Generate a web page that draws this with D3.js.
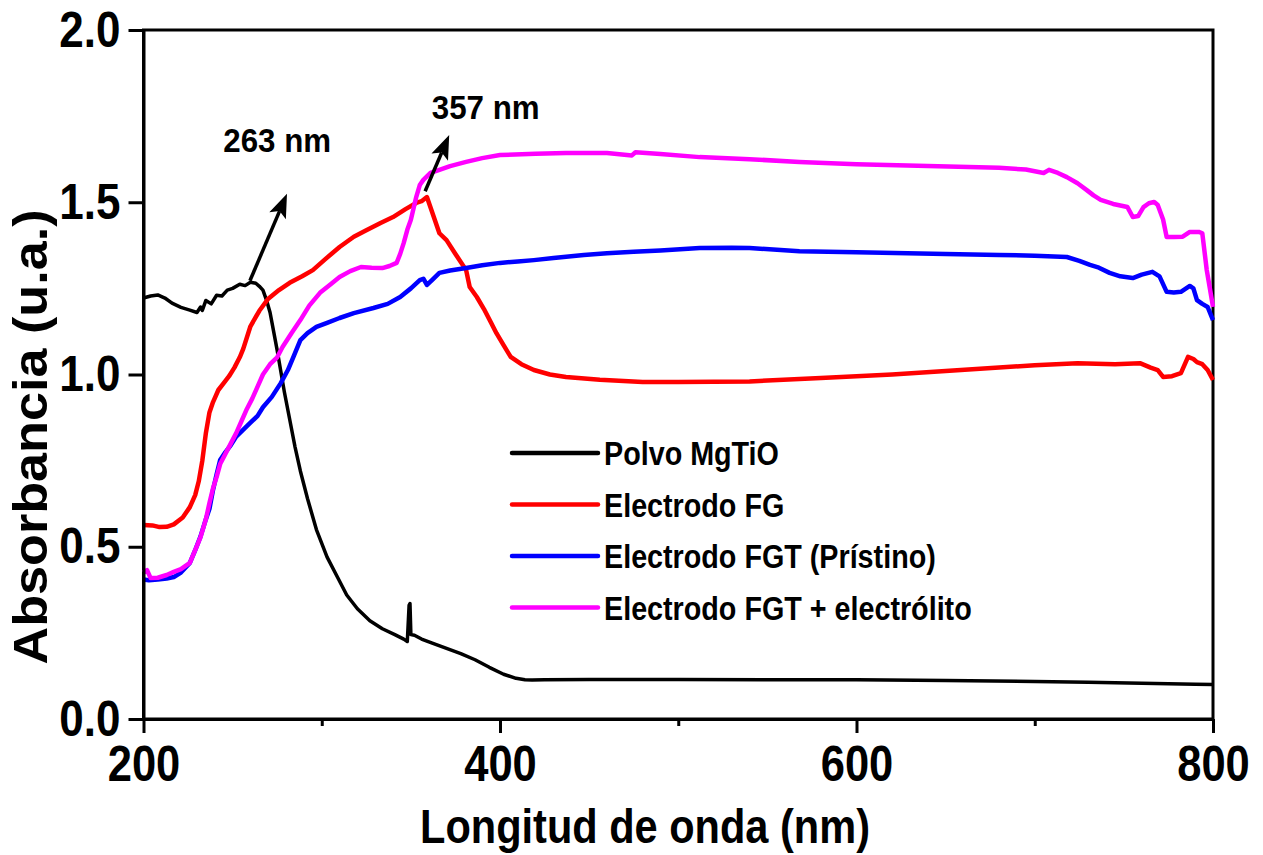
<!DOCTYPE html>
<html><head><meta charset="utf-8">
<script src="https://cdn.jsdelivr.net/npm/d3@7"></script>
<style>
body{margin:0;background:#fff;}
text{font-family:"Liberation Sans",Arial,sans-serif;font-weight:bold;fill:#000;}
</style></head>
<body><svg id="c" width="1263" height="855"></svg>
<script>
// ---- data ----
const xTicks = [200, 400, 600, 800];
const xMinorTicks = [300, 500, 700];
const yTicks = [0.0, 0.5, 1.0, 1.5, 2.0];
const seriesNames = ["Polvo MgTiO", "Electrodo FG", "Electrodo FGT (Prístino)", "Electrodo FGT + electrólito"];
const seriesColors = ["#000000", "#ff0000", "#0000ff", "#ff00ff"];

const polvoX = [200,204,208,212,216,221,226,230,232,233,235,238,241,244,247,250,254,257,260,263,265,267,269,271,273,275,277,279,282,285,288,292,297,303,309,314,320,327,334,341,346,348,349,349.5,350,352,356,362,370,378,386,394,402,409,414,418,425,450,500,550,600,650,700,730,760,790,800];
const polvoY = [1.222,1.228,1.231,1.222,1.207,1.195,1.187,1.18,1.196,1.186,1.215,1.205,1.23,1.228,1.245,1.25,1.262,1.258,1.268,1.265,1.256,1.245,1.216,1.18,1.125,1.07,1.01,0.95,0.87,0.79,0.72,0.64,0.55,0.47,0.41,0.36,0.32,0.285,0.262,0.245,0.232,0.225,0.33,0.335,0.245,0.243,0.232,0.22,0.205,0.19,0.172,0.15,0.13,0.118,0.114,0.113,0.114,0.115,0.115,0.114,0.114,0.112,0.109,0.107,0.104,0.101,0.100];

const fgX = [200,205,209,213,217,222,226,229,231,233,235,237,239,242,245,248,251,254,256,260,265,270,276,282,289,295,302,310,318,325,333,340,347,353,356,359,362,366,370,375,381,383,387,391,395,398,402,406,412,419,428,437,456,480,500,540,580,620,650,680,700,724,745,759,765,769,772,777,782,786,789,791,794,797,800];
const fgY = [0.563,0.562,0.557,0.558,0.565,0.585,0.615,0.65,0.69,0.75,0.83,0.89,0.92,0.955,0.975,0.995,1.02,1.05,1.075,1.14,1.185,1.22,1.245,1.266,1.285,1.303,1.335,1.37,1.4,1.419,1.44,1.457,1.48,1.498,1.503,1.515,1.47,1.41,1.39,1.35,1.303,1.254,1.225,1.19,1.15,1.12,1.085,1.051,1.03,1.013,1.0,0.993,0.985,0.978,0.978,0.98,0.99,1.0,1.01,1.02,1.027,1.033,1.03,1.033,1.02,1.013,0.993,0.995,1.004,1.051,1.045,1.036,1.03,1.013,0.984];

const fgtX = [200,203,208,213,217,221,226,229,232,235,237,239,241,243,246,249,252,256,260,264,267,272,277,281,284,288,292,297,303,310,318,329,337,344,350,355,357,359,362,366,372,381,390,400,410,419,430,447,460,475,490,512,530,540,568,600,650,680,700,718,725,731,736,742,748,755,760,766,770,774,778,782,787,789,791,794,797,800];
const fgtY = [0.405,0.403,0.405,0.408,0.412,0.425,0.453,0.49,0.53,0.58,0.61,0.665,0.71,0.752,0.775,0.795,0.82,0.84,0.86,0.88,0.905,0.935,0.975,1.013,1.05,1.1,1.12,1.138,1.15,1.164,1.178,1.193,1.205,1.225,1.25,1.274,1.278,1.26,1.275,1.295,1.302,1.309,1.317,1.324,1.328,1.332,1.338,1.347,1.352,1.356,1.36,1.367,1.368,1.367,1.358,1.355,1.35,1.347,1.345,1.341,1.33,1.318,1.31,1.295,1.285,1.28,1.29,1.298,1.285,1.24,1.238,1.24,1.257,1.25,1.216,1.205,1.196,1.158];

const electX = [200,202,204,208,213,217,221,226,229,232,235,237,239,241,243,246,249,252,255,258,261,264,267,271,275,278,283,288,293,299,305,310,316,322,328,334,338,342,344,346,348,350,353,355,357,361,366,372,381,390,400,420,437,460,474,476,490,512,540,568,600,640,680,695,705,708,713,718,724,729,733,737,744,752,755,758,761,764,767,769,772,774,778,783,787,792,794,796.5,800];
const electY = [0.425,0.432,0.409,0.41,0.418,0.427,0.435,0.453,0.49,0.528,0.58,0.627,0.67,0.702,0.74,0.77,0.8,0.83,0.865,0.9,0.93,0.965,1.0,1.03,1.05,1.08,1.12,1.158,1.2,1.237,1.262,1.283,1.3,1.312,1.31,1.309,1.315,1.324,1.35,1.382,1.42,1.449,1.515,1.55,1.565,1.585,1.594,1.605,1.617,1.628,1.637,1.641,1.643,1.643,1.636,1.645,1.64,1.631,1.625,1.617,1.61,1.605,1.6,1.595,1.585,1.594,1.585,1.573,1.555,1.536,1.52,1.507,1.495,1.486,1.457,1.46,1.486,1.497,1.501,1.492,1.45,1.399,1.399,1.4,1.414,1.414,1.41,1.303,1.196];

const seriesX = [polvoX, fgX, fgtX, electX];
const seriesY = [polvoY, fgY, fgtY, electY];

// annotations
const annLabels = ["263 nm", "357 nm"];
const annArrows = [[259.7, 1.272, 280.5, 1.525], [358, 1.532, 371.5, 1.695]];
const annTextPos = [[275, 1.646], [392, 1.742]];

// ---- layout ----
const svg = d3.select("#c");
const L = 143.5, R = 1213, T = 30, B = 719;
const x = d3.scaleLinear().domain([200, 800]).range([L, R]);
const y = d3.scaleLinear().domain([0, 2]).range([B, T]);

function squeeze(sel, f) {
  sel.each(function () {
    const w = this.getComputedTextLength();
    d3.select(this).attr("textLength", w * f).attr("lengthAdjust", "spacingAndGlyphs");
  });
}

// frame
svg.append("rect").attr("x", L).attr("y", T).attr("width", R - L).attr("height", B - T)
  .attr("fill", "none").attr("stroke", "#000").attr("stroke-width", 3);

// lines
const line = d3.line().x(d => x(d[0])).y(d => y(d[1])).curve(d3.curveLinear);
seriesX.forEach((xs, i) => {
  const pts = xs.map((v, j) => [v, seriesY[i][j]]);
  svg.append("path").attr("d", line(pts)).attr("fill", "none")
    .attr("stroke", seriesColors[i]).attr("stroke-width", i === 0 ? 3.5 : 4.5)
    .attr("stroke-linejoin", "round");
});

// x axis
const gx = svg.append("g").attr("transform", `translate(0,${B})`)
  .call(d3.axisBottom(x).tickValues(xTicks).tickSize(14).tickSizeOuter(0).tickPadding(12).tickFormat(d3.format("d")));
gx.select(".domain").attr("stroke-width", 3);
gx.selectAll(".tick line").attr("stroke-width", 3);
gx.selectAll("text").attr("font-size", 50).attr("font-family", null).call(squeeze, 0.87);
const gxm = svg.append("g").attr("transform", `translate(0,${B})`)
  .call(d3.axisBottom(x).tickValues(xMinorTicks).tickSize(7).tickSizeOuter(0).tickFormat(""));
gxm.select(".domain").remove();
gxm.selectAll(".tick line").attr("stroke-width", 3);

// y axis
const gy = svg.append("g").attr("transform", `translate(${L},0)`)
  .call(d3.axisLeft(y).tickValues(yTicks).tickSize(15).tickSizeOuter(0).tickPadding(8).tickFormat(d3.format(".1f")));
gy.select(".domain").attr("stroke-width", 3);
gy.selectAll(".tick line").attr("stroke-width", 3);
gy.selectAll("text").attr("font-size", 50).attr("font-family", null).call(squeeze, 0.88);

// axis titles
svg.append("text").attr("x", 645).attr("y", 843).attr("text-anchor", "middle")
  .attr("font-size", 49).text("Longitud de onda (nm)").attr("textLength", 450).attr("lengthAdjust", "spacingAndGlyphs");
svg.append("text").attr("transform", "translate(47,437) rotate(-90)").attr("text-anchor", "middle")
  .attr("font-size", 48).text("Absorbancia (u.a.)").attr("textLength", 455).attr("lengthAdjust", "spacingAndGlyphs");

// legend
const lg = svg.append("g");
seriesNames.forEach((n, i) => {
  const yy = 453 + i * 51.5;
  lg.append("line").attr("x1", 512).attr("x2", 598).attr("y1", yy).attr("y2", yy)
    .attr("stroke", seriesColors[i]).attr("stroke-width", 4.5).attr("stroke-linecap", "round");
  lg.append("text").attr("x", 604).attr("y", yy + 12).attr("font-size", 33).text(n).call(squeeze, 0.87);
});

// annotations (arrow shaft + filled head)
annArrows.forEach((a, i) => {
  const x1 = x(a[0]), y1 = y(a[1]), x2 = x(a[2]), y2 = y(a[3]);
  const ang = Math.atan2(y2 - y1, x2 - x1);
  const hl = 24, hw = 9, notch = 5;
  const ux = Math.cos(ang), uy = Math.sin(ang), px = -uy, py = ux;
  const bx = x2 - ux * hl, by = y2 - uy * hl;
  svg.append("line").attr("x1", x1).attr("y1", y1).attr("x2", bx + ux * notch).attr("y2", by + uy * notch)
    .attr("stroke", "#000").attr("stroke-width", 3.5);
  svg.append("path").attr("d", `M${x2},${y2} L${bx + px * hw},${by + py * hw} L${bx + ux * notch},${by + uy * notch} L${bx - px * hw},${by - py * hw} Z`)
    .attr("fill", "#000");
  svg.append("text").attr("x", x(annTextPos[i][0])).attr("y", y(annTextPos[i][1])).attr("text-anchor", "middle")
    .attr("font-size", 34).text(annLabels[i]).call(squeeze, 0.92);
});
</script></body></html>
